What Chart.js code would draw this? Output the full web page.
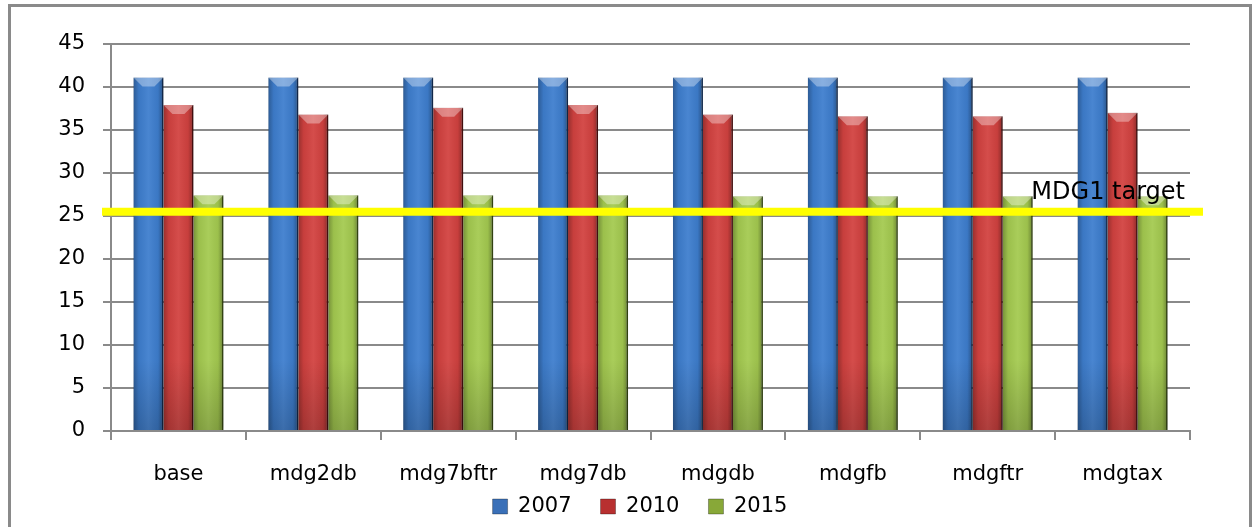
<!DOCTYPE html>
<html>
<head>
<meta charset="utf-8">
<script src="https://cdn.jsdelivr.net/npm/chart.js@4"></script>
<style>
  html, body { margin: 0; padding: 0; background: #fff; }
  #wrap { position: relative; width: 1259px; height: 527px; }
  #frame { position: absolute; left: 8px; top: 4px; width: 1244px; height: 530px; border: 3px solid #8a8a8a; box-sizing: border-box; }
  canvas { position: absolute; left: 0; top: 0; }
</style>
</head>
<body>
<div id="wrap">
  <div id="frame"></div>
  <canvas id="chart" width="1259" height="527"></canvas>
</div>
<script>
"use strict";

const CATEGORIES = ["base", "mdg2db", "mdg7bftr", "mdg7db", "mdgdb", "mdgfb", "mdgftr", "mdgtax"];
const Y2007 = [41.1, 41.1, 41.1, 41.1, 41.1, 41.1, 41.1, 41.1];
const Y2010 = [37.9, 36.8, 37.6, 37.9, 36.8, 36.6, 36.6, 37.0];
const Y2015 = [27.4, 27.4, 27.4, 27.4, 27.3, 27.3, 27.3, 27.3];
const TARGET = 25.5;
const TARGET_LABEL = "MDG1 target";

const FONT = "'DejaVu Sans', sans-serif";

const COLORS = {
  blue:  { fill: "rgb( 62, 126, 206)", edge: "rgb( 30,  70, 130)", key: "rgb( 58, 112, 184)" },
  red:   { fill: "rgb(210,  66,  64)", edge: "rgb(120,  25,  25)", key: "rgb(184,  48,  48)" },
  green: { fill: "rgb(164, 202,  80)", edge: "rgb( 90, 120,  30)", key: "rgb(136, 168,  56)" },
};

function ds(label, data, c) {
  return {
    label, data,
    backgroundColor: c.fill,
    borderColor: c.edge,
    borderWidth: { right: 1.5, left: 0, top: 0, bottom: 0 },
    keyColor: c.key,
  };
}

// glossy look: darker edges, lighter top bevel
const bevelPlugin = {
  id: "bevel",
  beforeDatasetsDraw(chart) {
    const ctx = chart.ctx;
    ctx.save();
    ctx.shadowColor = "rgba(0,0,0,0.25)";
    ctx.shadowBlur = 6;
    ctx.shadowOffsetX = 3;
  },
  afterDatasetsDraw(chart) {
    const ctx = chart.ctx;
    ctx.restore();
    ctx.save();
    chart.data.datasets.forEach((d, i) => {
      chart.getDatasetMeta(i).data.forEach(bar => {
        const w = bar.width;
        const l = bar.x - w / 2, r = bar.x + w / 2;
        const top = bar.y, bot = bar.base;
        const g = ctx.createLinearGradient(l, 0, r, 0);
        g.addColorStop(0, "rgba(0,0,0,0.28)");
        g.addColorStop(0.18, "rgba(0,0,0,0.05)");
        g.addColorStop(0.5, "rgba(255,255,255,0.06)");
        g.addColorStop(0.82, "rgba(0,0,0,0.05)");
        g.addColorStop(1, "rgba(0,0,0,0.35)");
        ctx.fillStyle = g;
        ctx.fillRect(l, top, w, bot - top);
        // top bevel
        ctx.fillStyle = "rgba(255,255,255,0.35)";
        ctx.beginPath();
        ctx.moveTo(l, top);
        ctx.lineTo(r, top);
        ctx.lineTo(r - w * 0.3, top + 9);
        ctx.lineTo(l + w * 0.3, top + 9);
        ctx.closePath();
        ctx.fill();
        // slightly darker toward the base
        const v = ctx.createLinearGradient(0, bot - 70, 0, bot);
        v.addColorStop(0, "rgba(0,0,0,0)");
        v.addColorStop(1, "rgba(0,0,0,0.18)");
        ctx.fillStyle = v;
        ctx.fillRect(l, Math.max(top, bot - 70), w, Math.min(70, bot - top));
      });
    });
    ctx.restore();
  },
};

// yellow target line with its label
const targetPlugin = {
  id: "target",
  afterDatasetsDraw(chart) {
    const { ctx, chartArea, scales } = chart;
    const y = scales.y.getPixelForValue(TARGET);
    ctx.save();
    ctx.strokeStyle = "#ffff00";
    ctx.lineWidth = 8;
    ctx.beginPath();
    ctx.moveTo(chartArea.left - 9, y);
    ctx.lineTo(chartArea.right + 13, y);
    ctx.stroke();
    ctx.fillStyle = "#000";
    ctx.font = "24px " + FONT;
    ctx.textAlign = "right";
    ctx.textBaseline = "alphabetic";
    ctx.fillText(TARGET_LABEL, chartArea.right - 5, y - 13);
    ctx.restore();
  },
};

new Chart(document.getElementById("chart"), {
  type: "bar",
  data: {
    labels: CATEGORIES,
    datasets: [
      ds("2007", Y2007, COLORS.blue),
      ds("2010", Y2010, COLORS.red),
      ds("2015", Y2015, COLORS.green),
    ],
  },
  options: {
    responsive: false,
    animation: false,
    devicePixelRatio: 1,
    categoryPercentage: 0.667,
    barPercentage: 1.0,
    layout: { padding: { left: 21, top: 44, right: 0, bottom: 0 } },
    scales: {
      x: {
        grid: { display: true, drawOnChartArea: false, drawTicks: true, tickLength: 9, offset: true, color: "#8a8a8a", lineWidth: 2 },
        border: { color: "#8a8a8a", width: 2 },
        ticks: { color: "#000", font: { family: FONT, size: 21 }, padding: 22 },
        afterFit(s) { s.height = 57; },
      },
      y: {
        min: 0, max: 45,
        ticks: { stepSize: 5, color: "#000", font: { family: FONT, size: 21 }, padding: 18 },
        grid: { color: "#8a8a8a", lineWidth: 2, tickLength: 8 },
        border: { color: "#8a8a8a", width: 2 },
        afterFit(s) { s.width = 90; },
      },
      // empty right-hand gutter so the legend stays centred on the page
      gutter: {
        type: "linear",
        position: "right",
        grid: { display: false },
        ticks: { display: false },
        border: { display: false },
        afterFit(s) { s.width = 69; },
      },
    },
    plugins: {
      legend: {
        position: "bottom",
        labels: {
          color: "#000",
          font: { family: FONT, size: 21 },
          boxWidth: 15, boxHeight: 15,
          padding: 8,
          generateLabels(chart) {
            const n = chart.data.datasets.length;
            return chart.data.datasets.map((d, i) => ({
              // an em space after each but the last keeps the wide gap between keys
              text: d.label + (i < n - 1 ? "\u2003" : ""),
              fillStyle: d.keyColor,
              strokeStyle: "rgba(0,0,0,0.3)",
              lineWidth: 1,
              datasetIndex: i,
              hidden: false,
            }));
          },
        },
      },
      tooltip: { enabled: false },
    },
  },
  plugins: [bevelPlugin, targetPlugin],
});
</script>
</body>
</html>
